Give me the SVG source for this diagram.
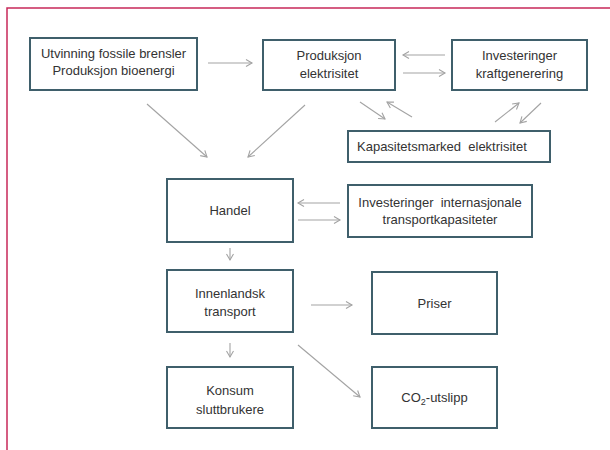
<svg xmlns="http://www.w3.org/2000/svg" width="610" height="450" viewBox="0 0 610 450">
<style>
.box{fill:#ffffff;stroke:#3f5f6b;stroke-width:2}
.t{font-family:"Liberation Sans",Arial,sans-serif;font-size:13px;fill:#333333;text-anchor:middle}
.c{stroke:#a3a3a3;stroke-width:1.1;fill:none;marker-end:url(#ah)}
</style>
<defs>
<marker id="ah" markerUnits="userSpaceOnUse" markerWidth="10" markerHeight="10" viewBox="-8 -5 10 10" refX="0" refY="0" orient="auto">
<path d="M-6,-3.5 L0,0 L-6,3.5" fill="none" stroke="#a3a3a3" stroke-width="1.1"/>
</marker>
</defs>
<rect x="0" y="0" width="610" height="450" fill="#ffffff"/>
<path d="M7,450 L7,8 L610,8" fill="none" stroke="#c8285a" stroke-width="1.5"/>
<g id="connectors">
<line class="c" x1="208" y1="63" x2="252" y2="63"/>
<line class="c" x1="445" y1="55" x2="403" y2="55"/>
<line class="c" x1="403" y1="73" x2="445" y2="73"/>
<line class="c" x1="360" y1="102" x2="385" y2="119"/>
<line class="c" x1="412" y1="117" x2="387" y2="102"/>
<line class="c" x1="495" y1="122" x2="519" y2="103"/>
<line class="c" x1="541" y1="103" x2="520" y2="123"/>
<line class="c" x1="147" y1="104" x2="207" y2="157"/>
<line class="c" x1="305" y1="105" x2="248" y2="157"/>
<line class="c" x1="340" y1="203" x2="298" y2="203"/>
<line class="c" x1="298" y1="220" x2="340" y2="220"/>
<line class="c" x1="230" y1="248" x2="230" y2="260"/>
<line class="c" x1="311" y1="305" x2="352" y2="305"/>
<line class="c" x1="230" y1="343" x2="230" y2="357"/>
<line class="c" x1="298" y1="345" x2="360" y2="397"/>
</g>
<g id="utvinning">
<rect class="box" x="30" y="38" width="167" height="52"/>
<text class="t" x="113.5" y="58">Utvinning fossile brensler</text>
<text class="t" x="113.5" y="75">Produksjon bioenergi</text>
</g>
<g id="produksjon">
<rect class="box" x="263" y="40" width="132" height="50"/>
<text class="t" x="329" y="59.5">Produksjon</text>
<text class="t" x="329" y="77.5">elektrisitet</text>
</g>
<g id="investkraft">
<rect class="box" x="452" y="40" width="135" height="50"/>
<text class="t" x="519.5" y="59.5">Investeringer</text>
<text class="t" x="519.5" y="77.5">kraftgenerering</text>
</g>
<g id="kapasitet">
<rect class="box" x="348" y="131" width="202" height="31"/>
<text class="t" x="357" y="150.5" style="text-anchor:start" xml:space="preserve">Kapasitetsmarked  elektrisitet</text>
</g>
<g id="handel">
<rect class="box" x="167" y="179" width="126" height="63"/>
<text class="t" x="230" y="215">Handel</text>
</g>
<g id="investintl">
<rect class="box" x="348" y="185" width="184" height="52"/>
<text class="t" x="440" y="206.5" xml:space="preserve">Investeringer  internasjonale</text>
<text class="t" x="440" y="223.5">transportkapasiteter</text>
</g>
<g id="innenlandsk">
<rect class="box" x="167" y="270" width="126" height="62"/>
<text class="t" x="230" y="297.5">Innenlandsk</text>
<text class="t" x="230" y="316">transport</text>
</g>
<g id="priser">
<rect class="box" x="372" y="272" width="125" height="62"/>
<text class="t" x="434.5" y="307.5">Priser</text>
</g>
<g id="konsum">
<rect class="box" x="167" y="367" width="126" height="61"/>
<text class="t" x="230" y="394.5">Konsum</text>
<text class="t" x="230" y="413.5">sluttbrukere</text>
</g>
<g id="co2">
<rect class="box" x="372" y="367" width="125" height="61"/>
<text class="t" x="434.5" y="401.5">CO<tspan font-size="9" dy="3">2</tspan><tspan dy="-3">-utslipp</tspan></text>
</g>
</svg>
